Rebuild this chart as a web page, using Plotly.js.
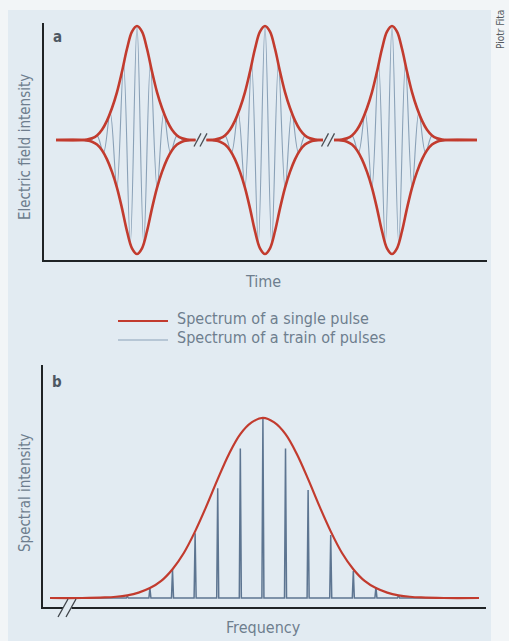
<!DOCTYPE html>
<html>
<head>
<meta charset="utf-8">
<script src="https://cdn.plot.ly/plotly-3.0.1.min.js"></script>
<style>
  html, body { margin: 0; padding: 0; background: #f2f5f7; }
  #chart { width: 509px; height: 641px; }
</style>
</head>
<body>
<div id="chart"></div>
<script>
// ---------- Panel a: electric field vs time (arbitrary time units) ----------
const pulseCenters = [93, 221, 348];
const traceStart = 12;
const traceEnd = 433;
// envelope of a single pulse (offset from pulse centre, normalised field)
const envOffsets = [-55, -50, -45, -40, -35, -30, -25, -20, -15, -10, -5, 0, 5, 10, 15, 20, 25, 30, 35, 40, 45, 50, 55];
const envValues  = [0, 0.004, 0.015, 0.04, 0.09, 0.17, 0.28, 0.42, 0.6, 0.8, 0.95, 1, 0.95, 0.8, 0.6, 0.42, 0.28, 0.17, 0.09, 0.04, 0.015, 0.004, 0];
// extrema of the carrier oscillation inside one pulse
const carrierOffsets = [-55, -47, -40.2, -33.5, -26.8, -20.1, -13.4, -6.7, 0, 6.7, 13.4, 20.1, 26.8, 33.5, 40.2, 47, 55];
const carrierValues  = [0, -0.01, 0.04, -0.11, 0.24, -0.42, 0.67, -0.91, 1, -0.91, 0.67, -0.42, 0.24, -0.11, 0.04, -0.01, 0];

// ---------- Panel b: spectrum vs frequency (units of comb spacing) ----------
const combModes   = [-6, -5, -4, -3, -2, -1, 0, 1, 2, 3, 4, 5, 6];
const combHeights = [0.01, 0.055, 0.155, 0.36, 0.61, 0.83, 1.0, 0.83, 0.6, 0.35, 0.15, 0.06, 0.015];
const specStart = -9.42;
const specEnd = 9.56;
const specEnvFreq   = [-9.42, -8, -7, -6.5, -6, -5.5, -5, -4.5, -4, -3.5, -3, -2.5, -2, -1.5, -1, -0.5, 0, 0.5, 1, 1.5, 2, 2.5, 3, 3.5, 4, 4.5, 5, 5.5, 6, 6.5, 7, 8, 9.56];
const specEnvValues = [0, 0, 0.003, 0.007, 0.015, 0.03, 0.055, 0.095, 0.16, 0.25, 0.37, 0.51, 0.66, 0.80, 0.91, 0.975, 1, 0.975, 0.91, 0.80, 0.66, 0.51, 0.37, 0.25, 0.16, 0.095, 0.055, 0.03, 0.015, 0.007, 0.003, 0, 0];

const legendLabels = ['Spectrum of a single pulse', 'Spectrum of a train of pulses'];

// ---------- styles ----------
const RED = '#c23b2e';
const CARRIER = '#8aa1b7';
const COMB = '#5d7591';
const TXT = '#6e7e8e';
const PANEL = '#e2ebf2';
const FONT = '"Liberation Sans Narrow", "DejaVu Sans Condensed", "Roboto Condensed", Arial, sans-serif';
const W = 509, H = 641;
const px = v => v / W;
const py = v => 1 - v / H;

// ---------- build panel a traces ----------
const gapHalf = 5.5;
function envelopeTrace(sign) {
  const xs = [traceStart], ys = [0];
  pulseCenters.forEach((c, i) => {
    envOffsets.forEach((o, j) => { xs.push(c + o); ys.push(sign * envValues[j]); });
    if (i < pulseCenters.length - 1) {
      const mid = (c + pulseCenters[i + 1]) / 2;
      xs.push(mid - gapHalf, null, mid + gapHalf);
      ys.push(0, null, 0);
    }
  });
  xs.push(traceEnd); ys.push(0);
  return {x: xs, y: ys, xaxis: 'x', yaxis: 'y', mode: 'lines',
          line: {color: RED, width: 2.6, shape: 'spline', smoothing: 1},
          showlegend: false, hoverinfo: 'skip'};
}
const carrierX = [], carrierY = [];
pulseCenters.forEach(c => {
  carrierOffsets.forEach((o, j) => { carrierX.push(c + o); carrierY.push(carrierValues[j]); });
  carrierX.push(null); carrierY.push(null);
});
const carrierTrace = {x: carrierX, y: carrierY, xaxis: 'x', yaxis: 'y', mode: 'lines',
  line: {color: CARRIER, width: 1.1, shape: 'spline', smoothing: 1}, showlegend: false, hoverinfo: 'skip'};

// ---------- build panel b traces ----------
const spikeHalf = 0.045;
const combX = [specStart], combY = [0];
combModes.forEach((m, i) => {
  combX.push(m - spikeHalf, m, m + spikeHalf);
  combY.push(0, combHeights[i], 0);
});
combX.push(specEnd); combY.push(0);
const combTrace = {x: combX, y: combY, xaxis: 'x2', yaxis: 'y2', mode: 'lines',
  line: {color: COMB, width: 1.5}, showlegend: false, hoverinfo: 'skip'};
const specEnvTrace = {x: specEnvFreq, y: specEnvValues, xaxis: 'x2', yaxis: 'y2', mode: 'lines',
  line: {color: RED, width: 2.2, shape: 'spline', smoothing: 1}, showlegend: false, hoverinfo: 'skip'};

// ---------- shapes ----------
const shapes = [];
shapes.push({type: 'rect', xref: 'paper', yref: 'paper', x0: px(8), x1: px(491), y0: py(641), y1: py(10),
  fillcolor: PANEL, line: {width: 0}, layer: 'below'});
// break marks on panel a baseline
const slashDy = 0.058;
for (let i = 0; i < pulseCenters.length - 1; i++) {
  const mid = (pulseCenters[i] + pulseCenters[i + 1]) / 2;
  [[-7, 0], [-1, 6]].forEach(([a, b]) => {
    shapes.push({type: 'line', xref: 'x', yref: 'y', x0: mid + a, x1: mid + b, y0: -slashDy, y1: slashDy,
      line: {color: '#4a4f55', width: 1.3}});
  });
}
// break mark on panel b frequency axis
shapes.push({type: 'rect', xref: 'paper', yref: 'paper', x0: px(63), x1: px(71.5), y0: py(609.5), y1: py(604.5),
  fillcolor: PANEL, line: {width: 0}, layer: 'above'});
[[58, 68], [66, 76]].forEach(([a, b]) => {
  shapes.push({type: 'line', xref: 'paper', yref: 'paper', x0: px(a), x1: px(b), y0: py(617), y1: py(599),
    line: {color: '#3f444a', width: 1.3}});
});
// legend samples
shapes.push({type: 'line', xref: 'paper', yref: 'paper', x0: px(118), x1: px(168), y0: py(321), y1: py(321),
  line: {color: RED, width: 2}});
shapes.push({type: 'line', xref: 'paper', yref: 'paper', x0: px(118), x1: px(168), y0: py(340), y1: py(340),
  line: {color: CARRIER, width: 1.2}});

// ---------- annotations ----------
function ann(text, x, y, opts) {
  return Object.assign({text: text, xref: 'paper', yref: 'paper', x: px(x), y: py(y),
    xanchor: 'center', yanchor: 'middle', showarrow: false,
    font: {family: FONT, size: 16, color: TXT}}, opts || {});
}
const annotations = [
  ann('<b>a</b>', 57, 37, {font: {family: FONT, size: 15, color: '#4e5863'}}),
  ann('<b>b</b>', 57, 382, {font: {family: FONT, size: 15, color: '#4e5863'}}),
  ann('Electric field intensity', 25, 147, {textangle: -90, font: {family: FONT, size: 15, color: TXT}}),
  ann('Spectral intensity', 25, 493, {textangle: -90, font: {family: FONT, size: 15, color: TXT}}),
  ann('Time', 263, 281),
  ann('Frequency', 263, 627),
  ann(legendLabels[0], 175, 318, {xanchor: 'left'}),
  ann(legendLabels[1], 175, 337, {xanchor: 'left'}),
  ann('Piotr Fita', 501, 30, {textangle: -90, font: {family: FONT, size: 10, color: '#555a60'}})
];

const axisBase = {showline: true, linecolor: '#1f2326', linewidth: 2, showgrid: false, zeroline: false,
  showticklabels: false, ticks: '', fixedrange: true};

const layout = {
  width: W, height: H,
  margin: {l: 0, r: 0, t: 0, b: 0},
  paper_bgcolor: '#f2f5f7',
  plot_bgcolor: 'rgba(0,0,0,0)',
  showlegend: false,
  xaxis: Object.assign({}, axisBase, {domain: [px(44), px(487)], range: [0, 443], anchor: 'y'}),
  yaxis: Object.assign({}, axisBase, {domain: [py(260), py(23)], range: [-1.053, 1.026], anchor: 'x'}),
  xaxis2: Object.assign({}, axisBase, {domain: [px(43), px(486)], range: [-9.73, 9.87], anchor: 'y2'}),
  yaxis2: Object.assign({}, axisBase, {domain: [py(607), py(365)], range: [-0.05, 1.294], anchor: 'x2'}),
  shapes: shapes,
  annotations: annotations
};

Plotly.newPlot('chart', [carrierTrace, envelopeTrace(1), envelopeTrace(-1), combTrace, specEnvTrace], layout,
  {displayModeBar: false, staticPlot: true});
</script>
</body>
</html>
